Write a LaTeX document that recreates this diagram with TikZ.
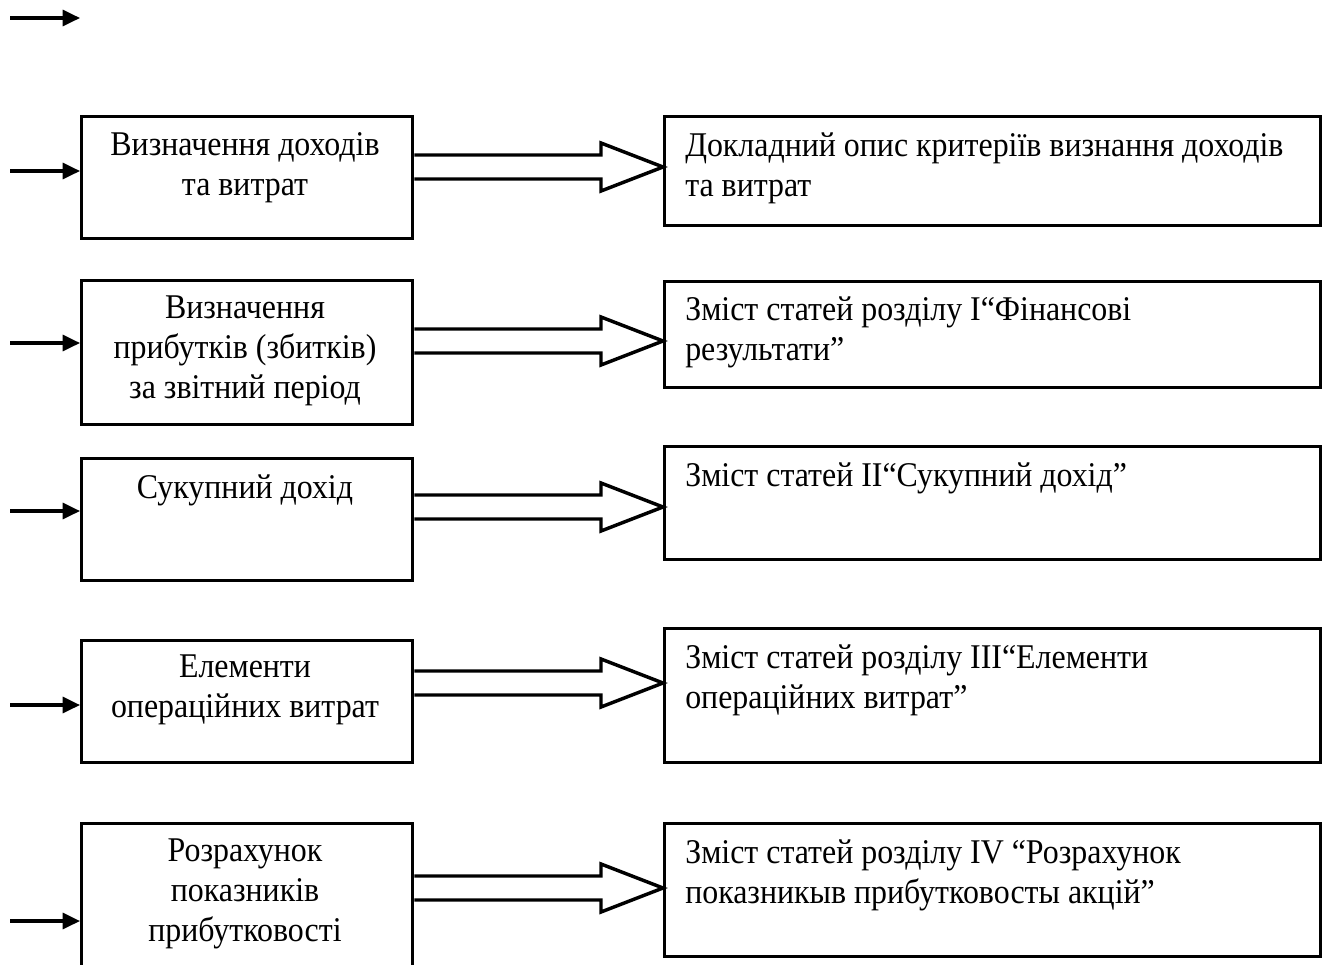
\documentclass[tikz,border=0pt]{standalone}
\usepackage{fontspec}
\setmainfont[FakeStretch=0.92]{Liberation Serif}
\usetikzlibrary{arrows.meta}
\begin{document}
\begin{tikzpicture}[x=0.75pt,y=-0.75pt,
  box/.style={draw, line width=2.6pt, anchor=north west, inner sep=0pt},
  ctext/.style={anchor=north, align=center, inner sep=0pt, font=\fontsize{26}{30}\selectfont},
  ltext/.style={anchor=north west, align=left, inner sep=0pt, font=\fontsize{26}{30}\selectfont},
  inarrow/.style={line width=2.4pt, -{Triangle[length=13pt,width=12pt]}},
  harrow/.style={line width=2.6pt, line join=miter}]
\useasboundingbox (0,0) rectangle (1324,964);
\clip (0,0) rectangle (1324,964);
% top arrow
\coordinate (a0) at (10,18);
\coordinate (b0) at (80,18);
\draw[inarrow] (a0) -- (b0);
% left boxes
\node[box, minimum width=331*0.75pt, minimum height=122*0.75pt] (L1) at (80,115) {};
\node[box, minimum width=331*0.75pt, minimum height=144*0.75pt] (L2) at (80,279) {};
\node[box, minimum width=331*0.75pt, minimum height=122*0.75pt] (L3) at (80,457) {};
\node[box, minimum width=331*0.75pt, minimum height=122*0.75pt] (L4) at (80,639) {};
\node[box, minimum width=331*0.75pt, minimum height=160*0.75pt] (L5) at (80,822) {};
% right boxes
\node[box, minimum width=656*0.75pt, minimum height=109*0.75pt] (R1) at (663,115) {};
\node[box, minimum width=656*0.75pt, minimum height=106*0.75pt] (R2) at (663,280) {};
\node[box, minimum width=656*0.75pt, minimum height=113*0.75pt] (R3) at (663,445) {};
\node[box, minimum width=656*0.75pt, minimum height=134*0.75pt] (R4) at (663,627) {};
\node[box, minimum width=656*0.75pt, minimum height=133*0.75pt] (R5) at (663,822) {};
% left texts
\node[ctext] (t1) at (245,132) {Визначення доходів\\та витрат};
\node[ctext] (t2) at (245,296) {Визначення\\прибутків (збитків)\\за звітний період};
\node[ctext] (t3) at (245,474) {Сукупний дохід};
\node[ctext] (t4) at (245,655) {Елементи\\операційних витрат};
\node[ctext] (t5) at (245,839) {Розрахунок\\показників\\прибутковості};
% right texts
\node[ltext] (u1) at (685,132) {Докладний опис критеріїв визнання доходів\\та витрат};
\node[ltext] (u2) at (685,296) {Зміст статей розділу І“Фінансові\\результати”};
\node[ltext] (u3) at (685,462) {Зміст статей ІІ“Сукупний дохід”};
\node[ltext] (u4) at (685,644) {Зміст статей розділу ІІІ“Елементи\\операційних витрат”};
\node[ltext] (u5) at (685,839) {Зміст статей розділу IV “Розрахунок\\показникыв прибутковосты акцій”};
% incoming arrows
\foreach \i/\yy in {1/171,2/343,3/511,4/705,5/921}{
  \coordinate (s\i) at (10,\yy);
  \draw[inarrow] (s\i) -- (L\i.west |- s\i);
}
% hollow double arrows
\foreach \i/\c in {1/167,2/341,3/507,4/683,5/888}{
  \draw[harrow] (L\i.east |- 0,\c-12) -- (601,\c-12) -- (601,\c-24)
     -- (R\i.west |- 0,\c) -- (601,\c+24) -- (601,\c+12) -- (L\i.east |- 0,\c+12);
}
\end{tikzpicture}
\end{document}
